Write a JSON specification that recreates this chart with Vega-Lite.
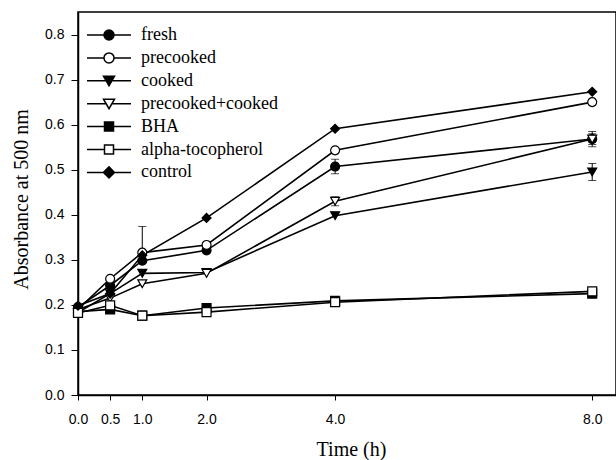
{
  "$schema": "https://vega.github.io/schema/vega-lite/v6.json",
  "autosize": {"type": "none"},
  "width": 538,
  "height": 383,
  "padding": {"left": 78, "top": 12, "right": 0, "bottom": 65},
  "background": "white",
  "config": {
    "view": {"stroke": "black", "strokeWidth": 1.5},
    "axis": {
      "grid": false,
      "domainColor": "black",
      "domainWidth": 1.5,
      "tickColor": "black",
      "tickWidth": 1,
      "labelFlush": false,
      "labelFont": "Liberation Sans",
      "labelFontSize": 14,
      "labelColor": "black",
      "titleFont": "Liberation Serif",
      "titleFontSize": 20,
      "titleFontWeight": "normal",
      "titleColor": "black"
    },
    "legend": {
      "labelFont": "Liberation Serif",
      "labelFontSize": 18,
      "labelColor": "black"
    }
  },
  "datasets": {
    "main": [
      {"series": "fresh", "t": 0, "y": 0.195},
      {"series": "fresh", "t": 0.5, "y": 0.243},
      {"series": "fresh", "t": 1, "y": 0.298},
      {"series": "fresh", "t": 2, "y": 0.321},
      {"series": "fresh", "t": 4, "y": 0.507},
      {"series": "fresh", "t": 8, "y": 0.568},
      {"series": "precooked", "t": 0, "y": 0.19},
      {"series": "precooked", "t": 0.5, "y": 0.258},
      {"series": "precooked", "t": 1, "y": 0.316},
      {"series": "precooked", "t": 2, "y": 0.333},
      {"series": "precooked", "t": 4, "y": 0.543},
      {"series": "precooked", "t": 8, "y": 0.65},
      {"series": "cooked", "t": 0, "y": 0.183},
      {"series": "cooked", "t": 0.5, "y": 0.225},
      {"series": "cooked", "t": 1, "y": 0.27},
      {"series": "cooked", "t": 2, "y": 0.272},
      {"series": "cooked", "t": 4, "y": 0.398},
      {"series": "cooked", "t": 8, "y": 0.495},
      {"series": "precooked+cooked", "t": 0, "y": 0.19},
      {"series": "precooked+cooked", "t": 0.5, "y": 0.215},
      {"series": "precooked+cooked", "t": 1, "y": 0.247},
      {"series": "precooked+cooked", "t": 2, "y": 0.27},
      {"series": "precooked+cooked", "t": 4, "y": 0.43},
      {"series": "precooked+cooked", "t": 8, "y": 0.568},
      {"series": "BHA", "t": 0, "y": 0.185},
      {"series": "BHA", "t": 0.5, "y": 0.19},
      {"series": "BHA", "t": 1, "y": 0.176},
      {"series": "BHA", "t": 2, "y": 0.193},
      {"series": "BHA", "t": 4, "y": 0.209},
      {"series": "BHA", "t": 8, "y": 0.225},
      {"series": "alpha-tocopherol", "t": 0, "y": 0.182},
      {"series": "alpha-tocopherol", "t": 0.5, "y": 0.199},
      {"series": "alpha-tocopherol", "t": 1, "y": 0.176},
      {"series": "alpha-tocopherol", "t": 2, "y": 0.184},
      {"series": "alpha-tocopherol", "t": 4, "y": 0.206},
      {"series": "alpha-tocopherol", "t": 8, "y": 0.23},
      {"series": "control", "t": 0, "y": 0.198},
      {"series": "control", "t": 0.5, "y": 0.225},
      {"series": "control", "t": 1, "y": 0.31},
      {"series": "control", "t": 2, "y": 0.393},
      {"series": "control", "t": 4, "y": 0.591},
      {"series": "control", "t": 8, "y": 0.673}
    ],
    "err": [
      {"series": "precooked", "t": 1, "lo": 0.316, "hi": 0.374},
      {"series": "fresh", "t": 4, "lo": 0.491, "hi": 0.523},
      {"series": "precooked+cooked", "t": 4, "lo": 0.42, "hi": 0.44},
      {"series": "fresh", "t": 8, "lo": 0.556, "hi": 0.58},
      {"series": "precooked+cooked", "t": 8, "lo": 0.551, "hi": 0.585},
      {"series": "cooked", "t": 8, "lo": 0.476, "hi": 0.514}
    ]
  },
  "resolve": {
    "scale": {"shape": "independent", "fill": "independent"},
    "legend": {"shape": "independent", "fill": "independent"}
  },
  "layer": [
    {
      "data": {"name": "main"},
      "mark": {"type": "line", "color": "black", "strokeWidth": 1.6},
      "encoding": {
        "x": {
          "field": "t", "type": "quantitative",
          "scale": {"domain": [0, 8.37], "nice": false, "zero": false},
          "axis": {"values": [0, 0.5, 1, 2, 4, 8], "format": ".1f", "title": "Time (h)", "tickSize": 5, "labelPadding": 12, "titleX": 273, "titleY": 60, "titleBaseline": "alphabetic", "titleAnchor": "middle", "titleAlign": "center"}
        },
        "y": {
          "field": "y", "type": "quantitative",
          "scale": {"domain": [0, 0.85], "nice": false},
          "axis": {"values": [0, 0.1, 0.2, 0.3, 0.4, 0.5, 0.6, 0.7, 0.8], "format": ".1f", "title": "Absorbance at 500 nm", "tickSize": 7, "labelPadding": 7, "titleX": -51, "titleY": 187, "titleAngle": -90, "titleBaseline": "alphabetic", "titleAlign": "center"}
        },
        "detail": {"field": "series"}
      }
    },
    {
      "data": {"name": "err"},
      "mark": {"type": "rule", "color": "black", "strokeWidth": 1},
      "encoding": {
        "x": {"field": "t", "type": "quantitative"},
        "y": {"field": "lo", "type": "quantitative"},
        "y2": {"field": "hi"}
      }
    },
    {
      "data": {"name": "err"},
      "mark": {"type": "tick", "orient": "horizontal", "color": "black", "size": 8, "thickness": 1},
      "encoding": {
        "x": {"field": "t", "type": "quantitative"},
        "y": {"field": "lo", "type": "quantitative"}
      }
    },
    {
      "data": {"name": "err"},
      "mark": {"type": "tick", "orient": "horizontal", "color": "black", "size": 8, "thickness": 1},
      "encoding": {
        "x": {"field": "t", "type": "quantitative"},
        "y": {"field": "hi", "type": "quantitative"}
      }
    },
    {
      "data": {"name": "main"},
      "mark": {"type": "point", "filled": true, "stroke": "black", "strokeWidth": 1.2, "size": 80, "opacity": 1},
      "encoding": {
        "x": {"field": "t", "type": "quantitative"},
        "y": {"field": "y", "type": "quantitative"},
        "shape": {
          "field": "series", "type": "nominal", "legend": null,
          "scale": {
            "domain": ["fresh", "precooked", "cooked", "precooked+cooked", "BHA", "alpha-tocopherol", "control"],
            "range": ["circle", "circle", "triangle-down", "triangle-down", "square", "square", "diamond"]
          }
        },
        "fill": {
          "field": "series", "type": "nominal", "legend": null,
          "scale": {
            "domain": ["fresh", "precooked", "cooked", "precooked+cooked", "BHA", "alpha-tocopherol", "control"],
            "range": ["black", "white", "black", "white", "black", "white", "black"]
          }
        }
      }
    },
    {
      "data": {"name": "main"},
      "mark": {"type": "point", "filled": true, "stroke": "black", "strokeWidth": 1.4, "opacity": 0},
      "encoding": {
        "x": {"field": "t", "type": "quantitative"},
        "y": {"field": "y", "type": "quantitative"},
        "shape": {
          "field": "series", "type": "nominal",
          "scale": {
            "domain": ["fresh", "precooked", "cooked", "precooked+cooked", "BHA", "alpha-tocopherol", "control"],
            "range": [
              "M-2.2,0H-0.5M0.5,0H2.2M-0.5,0A0.5,0.5,0,1,1,0.5,0A0.5,0.5,0,1,1,-0.5,0Z",
              "M-2.2,0H-0.5M0.5,0H2.2M-0.5,0A0.5,0.5,0,1,1,0.5,0A0.5,0.5,0,1,1,-0.5,0Z",
              "M-2.2,0H-0.29M0.29,0H2.2M-0.55,-0.45L0.55,-0.45L0,0.5Z",
              "M-2.2,0H-0.29M0.29,0H2.2M-0.55,-0.45L0.55,-0.45L0,0.5Z",
              "M-2.2,0H-0.45M0.45,0H2.2M-0.45,-0.45H0.45V0.45H-0.45Z",
              "M-2.2,0H-0.45M0.45,0H2.2M-0.45,-0.45H0.45V0.45H-0.45Z",
              "M-2.2,0H-0.55M0.55,0H2.2M-0.55,0L0,-0.55L0.55,0L0,0.55Z"
            ]
          },
          "legend": {
            "title": null, "orient": "none", "legendX": 20, "legendY": 12,
            "padding": 0, "symbolSize": 400, "symbolOpacity": 1,
            "symbolStrokeColor": "black", "symbolStrokeWidth": 1.5,
            "labelOffset": 21, "rowPadding": 2.9, "labelLimit": 300,
            "encode": {"symbols": {"update": {"stroke": {"value": "black"}, "strokeWidth": {"value": 1.5}, "strokeOpacity": {"value": 1}, "opacity": {"value": 1}}}}
          }
        },
        "fill": {
          "field": "series", "type": "nominal",
          "scale": {
            "domain": ["fresh", "precooked", "cooked", "precooked+cooked", "BHA", "alpha-tocopherol", "control"],
            "range": ["black", "white", "black", "white", "black", "white", "black"]
          },
          "legend": {
            "title": null, "orient": "none", "legendX": 20, "legendY": 12,
            "padding": 0, "symbolSize": 400, "symbolOpacity": 1,
            "symbolStrokeColor": "black", "symbolStrokeWidth": 1.5,
            "labelOffset": 21, "rowPadding": 2.9, "labelLimit": 300,
            "encode": {"symbols": {"update": {"stroke": {"value": "black"}, "strokeWidth": {"value": 1.5}, "strokeOpacity": {"value": 1}, "opacity": {"value": 1}}}}
          }
        }
      }
    }
  ]
}
